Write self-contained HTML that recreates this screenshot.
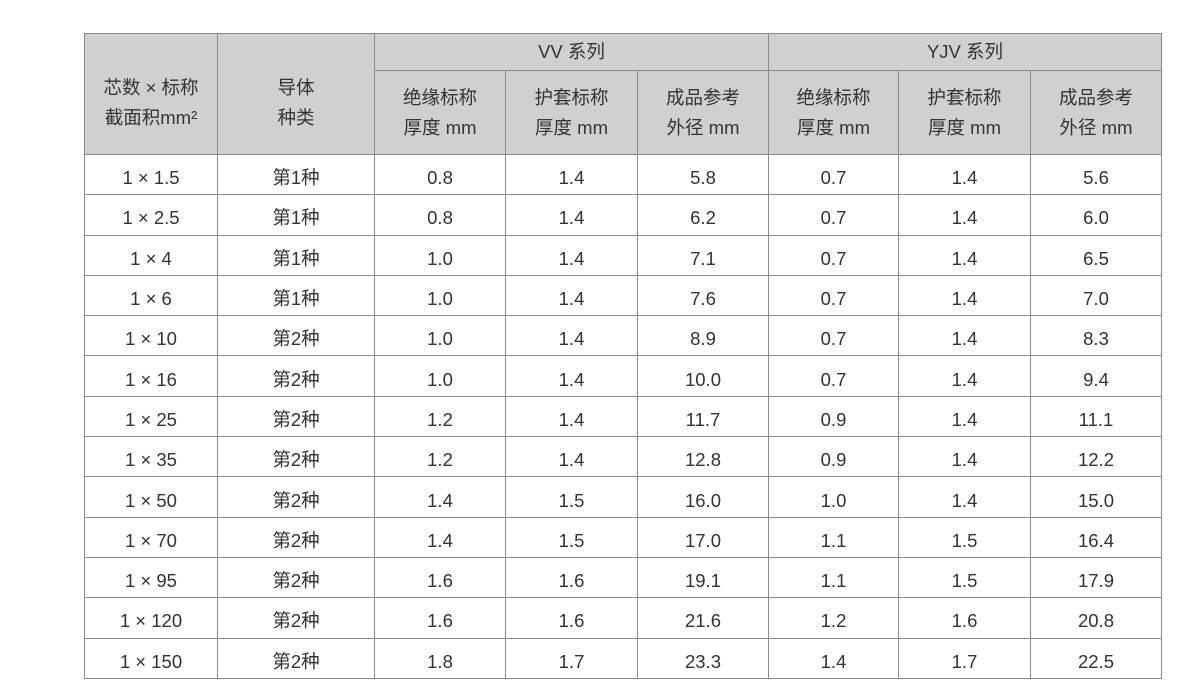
<!DOCTYPE html>
<html><head><meta charset="utf-8"><style>
html,body{margin:0;padding:0;background:#fff;width:1200px;height:695px;overflow:hidden}
table{position:absolute;left:84px;top:33px;border-collapse:collapse;table-layout:fixed;
font-family:"Liberation Sans","Noto Sans CJK SC",sans-serif;color:#333;font-size:18.5px}
td,th{border:1px solid #8a8a8a;text-align:center;padding:0;font-weight:normal}
th{background:#d0d0d0;line-height:30px}
th.l{padding-top:18px}
td{height:32.3px;padding-top:7px;line-height:24px}
</style></head><body>
<table>
<colgroup><col style="width:133px"><col style="width:157px"><col style="width:131px"><col style="width:132px"><col style="width:131px"><col style="width:130px"><col style="width:132px"><col style="width:131px"></colgroup>
<tr style="height:37px"><th rowspan="2" class="l">芯数 × 标称<br>截面积mm²</th><th rowspan="2" class="l">导体<br>种类</th><th colspan="3">VV 系列</th><th colspan="3">YJV 系列</th></tr>
<tr style="height:84px"><th>绝缘标称<br>厚度 mm</th><th>护套标称<br>厚度 mm</th><th>成品参考<br>外径 mm</th><th>绝缘标称<br>厚度 mm</th><th>护套标称<br>厚度 mm</th><th>成品参考<br>外径 mm</th></tr>
<tr><td>1 × 1.5</td><td>第1种</td><td>0.8</td><td>1.4</td><td>5.8</td><td>0.7</td><td>1.4</td><td>5.6</td></tr>
<tr><td>1 × 2.5</td><td>第1种</td><td>0.8</td><td>1.4</td><td>6.2</td><td>0.7</td><td>1.4</td><td>6.0</td></tr>
<tr><td>1 × 4</td><td>第1种</td><td>1.0</td><td>1.4</td><td>7.1</td><td>0.7</td><td>1.4</td><td>6.5</td></tr>
<tr><td>1 × 6</td><td>第1种</td><td>1.0</td><td>1.4</td><td>7.6</td><td>0.7</td><td>1.4</td><td>7.0</td></tr>
<tr><td>1 × 10</td><td>第2种</td><td>1.0</td><td>1.4</td><td>8.9</td><td>0.7</td><td>1.4</td><td>8.3</td></tr>
<tr><td>1 × 16</td><td>第2种</td><td>1.0</td><td>1.4</td><td>10.0</td><td>0.7</td><td>1.4</td><td>9.4</td></tr>
<tr><td>1 × 25</td><td>第2种</td><td>1.2</td><td>1.4</td><td>11.7</td><td>0.9</td><td>1.4</td><td>11.1</td></tr>
<tr><td>1 × 35</td><td>第2种</td><td>1.2</td><td>1.4</td><td>12.8</td><td>0.9</td><td>1.4</td><td>12.2</td></tr>
<tr><td>1 × 50</td><td>第2种</td><td>1.4</td><td>1.5</td><td>16.0</td><td>1.0</td><td>1.4</td><td>15.0</td></tr>
<tr><td>1 × 70</td><td>第2种</td><td>1.4</td><td>1.5</td><td>17.0</td><td>1.1</td><td>1.5</td><td>16.4</td></tr>
<tr><td>1 × 95</td><td>第2种</td><td>1.6</td><td>1.6</td><td>19.1</td><td>1.1</td><td>1.5</td><td>17.9</td></tr>
<tr><td>1 × 120</td><td>第2种</td><td>1.6</td><td>1.6</td><td>21.6</td><td>1.2</td><td>1.6</td><td>20.8</td></tr>
<tr><td>1 × 150</td><td>第2种</td><td>1.8</td><td>1.7</td><td>23.3</td><td>1.4</td><td>1.7</td><td>22.5</td></tr>
</table>
</body></html>
